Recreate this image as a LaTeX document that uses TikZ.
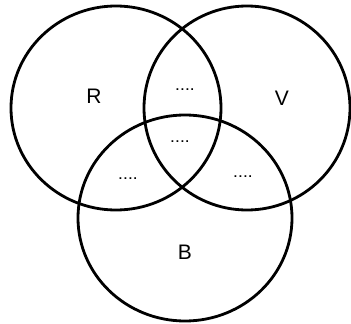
\documentclass[tikz,border=0pt]{standalone}
\usepackage{fontspec}
\setsansfont{Liberation Sans}
\newcommand{\fourdots}{.\kern1.6pt.\kern1.6pt.\kern1.6pt.}
\begin{document}
\begin{tikzpicture}[x=1pt,y=-1pt,
  ring/.style={draw=black,line width=2.8pt},
  lab/.style={font=\sffamily\fontsize{21}{24}\selectfont},
  dots/.style={font=\sffamily\bfseries\fontsize{12}{14}\selectfont}]
\useasboundingbox (0,0) rectangle (351,324);
\coordinate (cR) at (116,108);
\coordinate (cV) at (247,108);
\coordinate (cB) at (185,218);
\draw[ring] (cR) circle[x radius=105, y radius=102];
\draw[ring] (cV) circle[x radius=103, y radius=102];
\draw[ring] (cB) circle[x radius=107, y radius=103];
\node[lab] (R) at (94,96) {R};
\node[lab] (V) at (282,98) {V};
\node[lab] (B) at (185,252) {B};
\node[dots] (d1) at (185,90) {\fourdots};
\node[dots] (d2) at (180,142) {\fourdots};
\node[dots] (d3) at (128,179) {\fourdots};
\node[dots] (d4) at (243,177) {\fourdots};
\end{tikzpicture}
\end{document}
